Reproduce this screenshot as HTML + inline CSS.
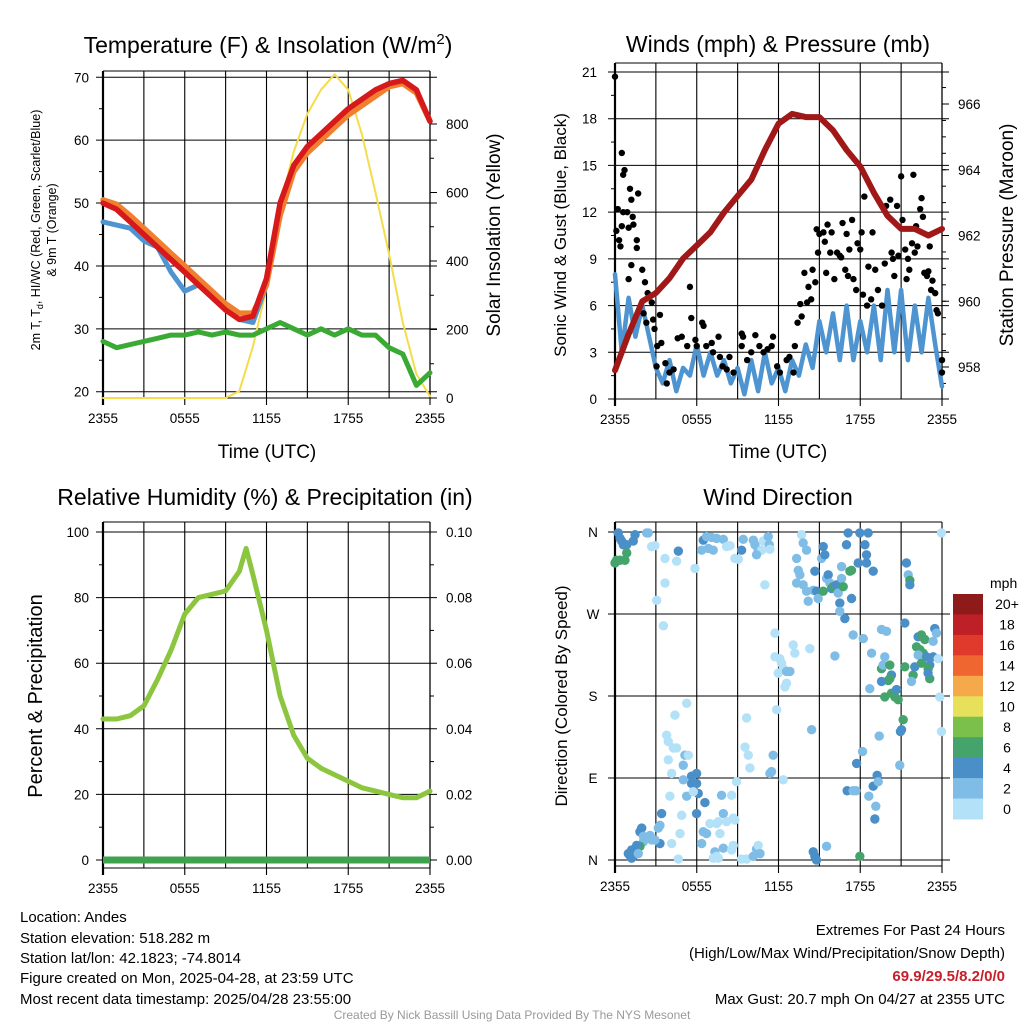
<!DOCTYPE html>
<html><head><meta charset="utf-8">
<style>
body{margin:0;background:#fff;width:1024px;height:1024px;overflow:hidden;font-family:"Liberation Sans",Arial,sans-serif;}
svg{display:block}
</style></head>
<body>
<svg id="chart" width="1024" height="1024" viewBox="0 0 1024 1024" xmlns="http://www.w3.org/2000/svg" font-family="Liberation Sans, Arial, sans-serif">
<text x="268" y="53" font-size="23" text-anchor="middle">Temperature (F) &amp; Insolation (W/m<tspan dy="-9" font-size="15">2</tspan><tspan dy="9">)</tspan></text>
<text x="778" y="52" font-size="23" text-anchor="middle">Winds (mph) &amp; Pressure (mb)</text>
<text x="265" y="505" font-size="23" text-anchor="middle">Relative Humidity (%) &amp; Precipitation (in)</text>
<text x="778" y="505" font-size="23" text-anchor="middle">Wind Direction</text>

<text x="267" y="458" font-size="19" text-anchor="middle">Time (UTC)</text>
<text x="778" y="458" font-size="19" text-anchor="middle">Time (UTC)</text>
<text transform="translate(40,230) rotate(-90)" font-size="12.5" text-anchor="middle">2m T, T<tspan dy="3" font-size="9">d</tspan><tspan dy="-3">, HI/WC (Red, Green, Scarlet/Blue)</tspan></text>
<text transform="translate(56,230) rotate(-90)" font-size="12.5" text-anchor="middle">&amp; 9m T (Orange)</text>
<text transform="translate(500,235) rotate(-90)" font-size="19" text-anchor="middle">Solar Insolation (Yellow)</text>
<text transform="translate(566,235) rotate(-90)" font-size="17" text-anchor="middle">Sonic Wind &amp; Gust (Blue, Black)</text>
<text transform="translate(1013,235) rotate(-90)" font-size="19" text-anchor="middle">Station Pressure (Maroon)</text>
<text transform="translate(42,696) rotate(-90)" font-size="20" text-anchor="middle">Percent &amp; Precipitation</text>
<text transform="translate(567,696) rotate(-90)" font-size="17" text-anchor="middle">Direction (Colored By Speed)</text>

<g id="layer"></g>

<g font-size="15">
<text x="20" y="922">Location: Andes</text>
<text x="20" y="943">Station elevation: 518.282 m</text>
<text x="20" y="963">Station lat/lon: 42.1823; -74.8014</text>
<text x="20" y="983">Figure created on Mon, 2025-04-28, at 23:59 UTC</text>
<text x="20" y="1004">Most recent data timestamp: 2025/04/28 23:55:00</text>
</g>
<g font-size="15" text-anchor="end">
<text x="1005" y="935">Extremes For Past 24 Hours</text>
<text x="1005" y="958">(High/Low/Max Wind/Precipitation/Snow Depth)</text>
<text x="1005" y="981" fill="#c8202a" font-weight="bold">69.9/29.5/8.2/0/0</text>
<text x="1005" y="1004">Max Gust: 20.7 mph On 04/27 at 2355 UTC</text>
</g>
<text x="512" y="1019" font-size="12" fill="#999" text-anchor="middle">Created By Nick Bassill Using Data Provided By The NYS Mesonet</text>
</svg>
<script>
// ---------- data ----------
const hourTicks=["2355","0555","1155","1755","2355"];
const tempHours=[0,1,2,3,4,5,6,7,8,9,10,11,12,13,14,15,16,17,18,19,20,21,22,23,24];
const tempT=[50,49,47,45,43,41,39,37,35,33,31.5,32,38,50,56,59,61,63,65,66.5,68,69,69.5,68,63];
const temp9m=[50.5,49.8,48,46,44,42,40,38,36,34,32.5,32.5,37,48,55,58,60,62,64,65.5,67,68.5,69,67.5,63];
const tempHI=[47,46.5,46,44,43,39,36,37,35,33,31.5,31,37,50,56,59,61,63,65,66.5,68,69,69.5,68,63];
const tempTd=[28,27,27.5,28,28.5,29,29,29.5,29,29.5,29,29,30,31,30,29,30,29,30,29,29,27,26,21,23];
const solar=[0,0,0,0,0,0,0,0,0,0,20,150,320,560,720,830,900,945,900,770,600,420,220,70,5];
const tempTicks=[20,30,40,50,60,70];
const solarTicks=[0,200,400,600,800];
const windHalfHours=[0,0.5,1,1.5,2,2.5,3,3.5,4,4.5,5,5.5,6,6.5,7,7.5,8,8.5,9,9.5,10,10.5,11,11.5,12,12.5,13,13.5,14,14.5,15,15.5,16,16.5,17,17.5,18,18.5,19,19.5,20,20.5,21,21.5,22,22.5,23,23.5,24];
const windSpeed=[8,3,6.5,4,6,4,2,1,2.5,0.5,2,1.5,3.5,1.5,3,1.5,2.5,1,2,0.3,2.5,0.5,3,1,2,0.5,2.5,1.5,3.5,2,5,3,5.5,2.5,6,2.5,5,3,6,2.5,7,3,7,2.5,6,3,6.5,3.5,0.8];
const pressHours=[0,1,2,3,4,5,6,7,8,9,10,11,12,13,14,15,16,17,18,19,20,21,22,23,24];
const pressure=[957.9,959.0,960.0,960.25,960.7,961.3,961.7,962.1,962.7,963.2,963.7,964.6,965.4,965.7,965.6,965.6,965.2,964.6,964.1,963.3,962.6,962.2,962.2,962.0,962.2];
const gustHours=[0,0.1,0.2,0.3,0.4,0.5,0.7,0.6,0.6,0.9,1.0,0.5,1.1,1.2,1.3,1.35,1.6,1.7,1.6,1.2,1.0,2.0,2.2,2.4,2.1,2.3,2.7,2.8,2.9,3.3,3.1,3.4,3.05,3.7,3.8,4.0,4.3,4.6,4.9,5.3,5.5,5.6,5.9,6.0,6.4,6.5,6.7,7.1,7.2,7.6,7.7,7.9,8.2,8.4,8.7,9.3,9.4,9.3,9.7,10.0,10.3,10.6,10.9,11.2,11.6,11.5,11.9,12.1,12.6,12.8,13.1,13.2,13.4,13.6,13.7,13.9,14.1,14.2,14.4,14.5,14.7,14.8,14.9,15.0,15.3,15.4,15.5,15.6,15.8,15.9,16.1,16.3,16.5,16.6,16.7,16.9,17.0,17.1,17.2,17.4,17.5,17.7,17.8,18.0,18.1,18.2,18.3,18.5,18.6,18.8,18.9,19.1,19.3,19.6,19.8,19.9,20.2,20.3,20.4,20.5,20.7,20.8,21.0,21.1,21.3,21.4,21.5,21.6,21.8,21.9,22.0,22.1,22.2,22.4,22.5,22.6,22.7,22.9,23.0,23.1,23.2,23.3,23.5,23.6,23.7,24.0,24.0];
const gustValues=[20.7,10.8,12.2,10.2,9.8,15.8,14.7,14.4,12.0,12.0,11.0,11.1,13.5,12.8,11.7,11.2,10.2,13.2,9.7,8.6,7.7,8.3,7.5,6.8,5.5,4.9,6.2,5.1,4.5,5.4,3.4,3.6,2.1,2.3,1.0,1.7,1.9,3.9,4.0,3.4,7.2,5.2,3.8,3.4,4.9,4.7,3.4,3.6,3.0,4.0,2.7,2.1,1.9,2.7,1.7,4.2,4.0,3.4,2.5,3.0,4.1,3.4,3.0,3.2,4.0,3.4,2.1,1.7,2.5,2.7,1.7,3.4,4.9,6.1,5.3,8.1,6.2,7.2,6.4,8.3,7.5,10.9,9.4,10.6,10.7,10.1,8.1,11.2,9.4,10.7,7.7,9.4,9.2,9.1,11.3,8.3,10.6,7.9,9.6,11.5,7.7,7.0,10.0,9.6,10.7,6.7,13.0,6.0,8.5,6.4,10.7,8.3,7.0,6.0,8.7,12.4,12.8,9.4,9.0,7.9,12.4,9.2,14.3,11.5,9.6,7.7,9.0,8.3,10.0,14.4,9.4,11.1,9.8,12.2,12.9,11.7,8.1,7.9,8.2,9.8,7.0,7.6,6.8,5.7,5.5,2.5,1.7];
const windTicks=[0,3,6,9,12,15,18,21];
const pressTicks=[958,960,962,964,966];
const rhHours=[0,1,2,3,4,5,6,7,8,9,10,10.5,11,12,13,14,15,16,17,18,19,20,21,22,23,24];
const rh=[43,43,44,47,55,64,75,80,81,82,88,95,87,70,50,38,31,28,26,24,22,21,20,19,19,21];
const precip=[0,0];
const precipHours=[0,24];
const rhTicks=[0,20,40,60,80,100];
const precipTicks=["0.00","0.02","0.04","0.06","0.08","0.10"];
const dirHours=[0.24,0.37,0.49,0.61,0.86,1.34,1.47,2.32,2.44,0,0.12,0.37,0.73,0.86,2.69,2.93,3.67,4.52,4.65,5.87,3.67,3.06,3.55,6.48,6.72,7.09,7.46,7.95,6.36,6.85,7.21,8.19,8.44,8.8,9.05,9.29,9.41,10.15,10.27,10.51,10.76,10.88,11.25,11.32,11.37,10.39,11.0,13.69,13.81,14.06,13.33,13.45,13.57,13.33,13.81,14.06,14.18,14.55,14.67,14.79,14.91,15.16,15.28,15.4,15.28,15.53,15.65,15.77,15.89,16.01,16.26,16.38,16.5,16.63,16.63,16.75,16.87,16.5,16.99,17.11,17.24,17.36,17.36,17.97,17.85,18.34,18.46,18.46,18.58,18.95,21.39,21.52,21.64,21.64,23.96,17.48,18.22,18.83,19.56,19.93,21.27,19.56,19.8,19.68,20.17,20.29,20.17,20.05,19.56,18.7,19.8,20.29,20.54,20.66,20.78,21.15,21.27,21.88,22.0,21.76,22.25,22.49,22.74,22.13,22.37,22.62,22.25,22.86,23.1,23.35,23.47,23.59,23.35,22.98,23.1,22.49,22.98,23.72,23.84,23.96,11.74,13.08,13.2,14.3,11.74,12.1,12.22,12.35,11.98,12.59,12.84,12.59,12.47,16.14,11.86,9.66,14.43,9.54,9.78,9.9,11.61,11.49,11.37,12.35,5.26,4.4,3.79,3.91,4.28,4.52,3.91,4.16,5.13,5.38,5.01,5.62,5.99,5.62,5.01,5.99,4.03,5.26,6.11,5.75,6.6,7.82,8.56,8.92,5.99,7.95,7.58,8.19,8.68,8.8,6.97,7.46,3.3,3.18,3.42,4.89,4.77,6.48,6.72,7.7,6.36,4.16,3.3,1.83,1.96,2.08,2.57,2.69,2.93,2.08,1.83,1.83,1.59,1.22,1.47,1.1,1.34,0.98,1.22,1.71,4.65,7.33,7.95,8.68,8.56,7.46,7.58,7.21,9.29,9.66,10.15,10.39,10.51,10.64,14.55,14.67,14.79,15.53,17.97,17.04,17.48,17.68,17.73,18.17,18.63,18.95,19.14,19.07,19.24,19.32,19.39,20.9,20.95,21.03];
const dirDegrees=[359,353,350,346,346,350,357,359,359,326,329,329,329,337,344,345,331,328,339,320,304,285,257,351,355,354,353,352,340,342,340,344,345,331,330,340,352,351,346,340,340,350,355,346,341,335,302,357,348,340,331,318,313,304,302,295,284,296,317,295,287,331,344,335,295,309,313,304,298,300,302,293,282,322,309,300,265,273,346,359,317,318,287,359,326,346,335,326,359,317,326,313,307,302,359,247,243,227,253,251,260,210,223,214,214,203,199,197,196,188,179,183,179,187,176,154,212,203,212,196,245,247,242,234,231,227,225,223,214,223,254,249,240,210,199,216,205,221,179,141,249,236,227,232,223,221,216,210,205,207,207,194,190,224,165,156,143,124,115,101,115,97,95,88,172,159,137,130,123,123,110,95,115,115,104,92,95,84,88,84,70,70,73,75,63,71,71,86,51,51,42,42,46,44,40,40,38,35,51,49,29,31,29,29,18,18,18,31,35,26,27,22,22,20,15,15,16,11,7,5,4,7,2,7,1,9,13,16,11,4,2,2,1,1,4,12,16,7,9,4,0,15,4,76,76,76,106,119,70,81,59,45,93,86,136,104,141,143];
const dirSpeeds=[5,5,5,5,5,5,5,3,3,7,7,7,7,7,1,1,1,1,5,1,1,1,1,5,3,3,3,3,3,3,3,1,1,1,1,5,3,3,3,3,1,1,3,3,1,3,1,1,3,3,3,3,3,3,3,3,3,3,5,5,3,3,5,5,7,3,5,3,5,7,5,3,5,3,3,7,5,3,5,5,7,7,5,5,5,5,5,5,5,5,5,3,7,5,1,3,3,3,3,3,5,7,3,3,7,5,7,7,5,3,7,7,7,5,7,7,7,7,5,3,5,7,7,7,7,7,3,5,5,5,5,3,3,7,7,7,5,1,1,1,1,1,1,1,1,1,1,1,1,3,3,1,1,3,1,1,3,1,1,1,3,3,3,1,1,1,1,1,1,1,1,1,3,1,3,5,5,5,3,5,1,3,5,1,5,3,1,1,5,3,1,1,1,1,1,1,3,3,5,1,1,3,3,1,3,1,5,5,5,3,3,3,3,3,3,7,5,5,5,5,5,5,5,3,1,3,3,1,1,1,1,1,1,1,3,3,1,3,5,5,5,3,7,5,3,3,5,3,3,5,3,5,5,3,3,3,5,5];
const dirTicks=["N","E","S","W","N"];
const speedBins=["0","2","4","6","8","10","12","14","16","18","20+"];
const speedColors=["#b3e1f7","#80bde6","#4a8fc8","#45a46c","#7bc04a","#e6e05a","#f5a94a","#f06630","#e03a2c","#bf1f26","#8f1a1a"];

// ---------- helpers ----------
const NS="http://www.w3.org/2000/svg";
const layer=document.getElementById('layer');
function mk(tag,attrs,parent){const e=document.createElementNS(NS,tag);for(const k in attrs)e.setAttribute(k,attrs[k]);(parent||layer).appendChild(e);return e;}
function lin(d0,d1,r0,r1){return v=>r0+(v-d0)*(r1-r0)/(d1-d0);}

function frame(L,R,T,B,name){
  const g=mk('g',{});
  
  
  for(let h=0;h<=24;h+=3){const x=L+(R-L)*h/24;mk('line',{x1:x,x2:x,y1:T,y2:B+(h%6===0?7:0),stroke:'#000','stroke-width':h===0?2.2:1.1},g);}
  mk('line',{x1:L,x2:R,y1:T,y2:T,stroke:'#000','stroke-width':1},g);
  mk('line',{x1:L,x2:R,y1:B,y2:B,stroke:'#000','stroke-width':1},g);
  const tg=mk('g',{});
  
  
  hourTicks.forEach((t,i)=>{const x=L+(R-L)*i/4;const tx=mk('text',{x:x,y:B+25,'font-size':13.5,'text-anchor':'middle'},tg);tx.textContent=t;});
  return g;
}
function hgrid(g,L,R,y,ext){mk('line',{x1:L-(ext?7:0),x2:R+7,y1:y,y2:y,stroke:'#000','stroke-width':1},g);}
function path(pts,attrs,name){let d='';pts.forEach((p,i)=>{d+=(i?'L':'M')+p[0].toFixed(1)+','+p[1].toFixed(1);});const e=mk('path',Object.assign({d:d,fill:'none','stroke-linejoin':'round','stroke-linecap':'round'},attrs));return e;}

// ---------- Panel 1: Temperature ----------
(function(){
 const L=103,R=430,T=71,B=398;
 const x=lin(0,24,L,R), y=lin(20,70,391.7,77.3), ys=lin(0,800,398,124);
 const g=frame(L,R,T,B,'temp');
 tempTicks.forEach(v=>{hgrid(g,L,R,y(v),true);const t=mk('text',{x:L-14,y:y(v)+5,'font-size':13.5,'text-anchor':'end'});t.textContent=v;});
 for(let v=25;v<70;v+=10)mk('line',{x1:L-4,x2:L,y1:y(v),y2:y(v),stroke:'#000'},g);
 mk('line',{x1:R,x2:R,y1:T,y2:B,stroke:'#000','stroke-width':1.2},g);
 solarTicks.forEach(v=>{mk('line',{x1:R,x2:R+7,y1:ys(v),y2:ys(v),stroke:'#000'},g);const t=mk('text',{x:R+16,y:ys(v)+5,'font-size':13.5});t.textContent=v;});
 for(let v=100;v<900;v+=200)mk('line',{x1:R,x2:R+4,y1:ys(v),y2:ys(v),stroke:'#000'},g);
 path(tempHours.map((h,i)=>[x(h),ys(solar[i])]),{stroke:'#f5dc4a','stroke-width':2},'solar-line');
 path(tempHours.map((h,i)=>[x(h),y(tempTd[i])]),{stroke:'#3aaa35','stroke-width':5},'dewpoint-line');
 path(tempHours.map((h,i)=>[x(h),y(tempHI[i])]),{stroke:'#4d94d0','stroke-width':5},'heat-index-windchill-line');
 path(tempHours.map((h,i)=>[x(h),y(temp9m[i])]),{stroke:'#f08030','stroke-width':5.5},'temp-9m-line');
 path(tempHours.map((h,i)=>[x(h),y(tempT[i])]),{stroke:'#d7191c','stroke-width':5.5},'temp-2m-line');
})();

// ---------- Panel 2: Winds ----------
(function(){
 const L=615,R=942,T=63,B=399;
 const x=lin(0,24,L,R), y=lin(0,21,399,72), yp=lin(958,966,367,104);
 const g=frame(L,R,T,B,'wind');
 windTicks.forEach(v=>{hgrid(g,L,R,y(v),true);const t=mk('text',{x:L-18,y:y(v)+5,'font-size':13.5,'text-anchor':'end'});t.textContent=v;});
 for(let v=1.5;v<21;v+=3)mk('line',{x1:L-4,x2:L,y1:y(v),y2:y(v),stroke:'#000'},g);
 mk('line',{x1:R,x2:R,y1:T,y2:B,stroke:'#000','stroke-width':1.2},g);
 pressTicks.forEach(v=>{mk('line',{x1:R,x2:R+7,y1:yp(v),y2:yp(v),stroke:'#000'},g);const t=mk('text',{x:R+16,y:yp(v)+5,'font-size':13.5});t.textContent=v;});
 for(let v=957.5;v<967;v+=0.5)mk('line',{x1:R,x2:R+4,y1:yp(v),y2:yp(v),stroke:'#000'},g);
 path(windHalfHours.map((h,i)=>[x(h),y(windSpeed[i])]),{stroke:'#4d94d0','stroke-width':4.5},'sonic-wind-line');
 const gg=mk('g',{});
 
 
 gustHours.forEach((h,i)=>{const c=mk('circle',{cx:x(h),cy:y(gustValues[i]),r:3.2,fill:'#000'},gg);});
 path(pressHours.map((h,i)=>[x(h),yp(pressure[i])]),{stroke:'#a01818','stroke-width':6},'pressure-line');
})();

// ---------- Panel 3: RH ----------
(function(){
 const L=103,R=430,T=522,B=868;
 const x=lin(0,24,L,R), y=lin(0,100,860,532), yp=lin(0,0.1,860,532);
 const g=frame(L,R,T,B,'humidity');
 rhTicks.forEach((v,i)=>{hgrid(g,L,R,y(v),true);const t=mk('text',{x:L-14,y:y(v)+5,'font-size':13.5,'text-anchor':'end'});t.textContent=v;const t2=mk('text',{x:R+16,y:y(v)+5,'font-size':13.5});t2.textContent=precipTicks[i];});
 mk('line',{x1:R,x2:R,y1:T,y2:B,stroke:'#000','stroke-width':1.2},g);
 for(let v=10;v<100;v+=20){mk('line',{x1:L-4,x2:L,y1:y(v),y2:y(v),stroke:'#000'},g);mk('line',{x1:R,x2:R+4,y1:y(v),y2:y(v),stroke:'#000'},g);}
 path(rhHours.map((h,i)=>[x(h),y(rh[i])]),{stroke:'#8cc63f','stroke-width':5},'humidity-line');
 path(precipHours.map((h,i)=>[x(h),yp(precip[i])]),{stroke:'#3fa34d','stroke-width':7,'stroke-linecap':'butt'},'precipitation-line');
})();

// ---------- Panel 4: Wind Direction ----------
(function(){
 const L=615,R=942,T=522,B=866;
 const x=lin(0,24,L,R), y=lin(0,360,860,532);
 const g=frame(L,R,T,B,'direction');
 dirTicks.forEach((lab,i)=>{const yy=y(i*90);hgrid(g,L,R+1,yy,true);const t=mk('text',{x:L-22,y:yy+5,'font-size':13.5,'text-anchor':'middle'});t.textContent=lab;});
 const dg=mk('g',{});
 
 
 dirHours.forEach((h,i)=>{const s=dirSpeeds[i];const bin=Math.min(10,Math.floor((s||3)/2));const c=mk('circle',{cx:x(h),cy:y(dirDegrees[i]),r:4.7,fill:speedColors[bin]||'#80bde6'},dg);});
 const cb=mk('g',{});
 
 
 const t=mk('text',{x:990,y:588,'font-size':14},cb);t.textContent='mph';
 const top=594,bh=(819-594)/11;
 speedBins.forEach((lab,i)=>{const k=10-i;const r=mk('rect',{x:953,y:top+bh*i,width:30,height:bh+0.5,fill:speedColors[k]},cb);const tl=mk('text',{x:1007,y:top+bh*i+bh/2+5,'font-size':14,'text-anchor':'middle'},cb);tl.textContent=speedBins[k];});
})();
</script>
</body></html>
